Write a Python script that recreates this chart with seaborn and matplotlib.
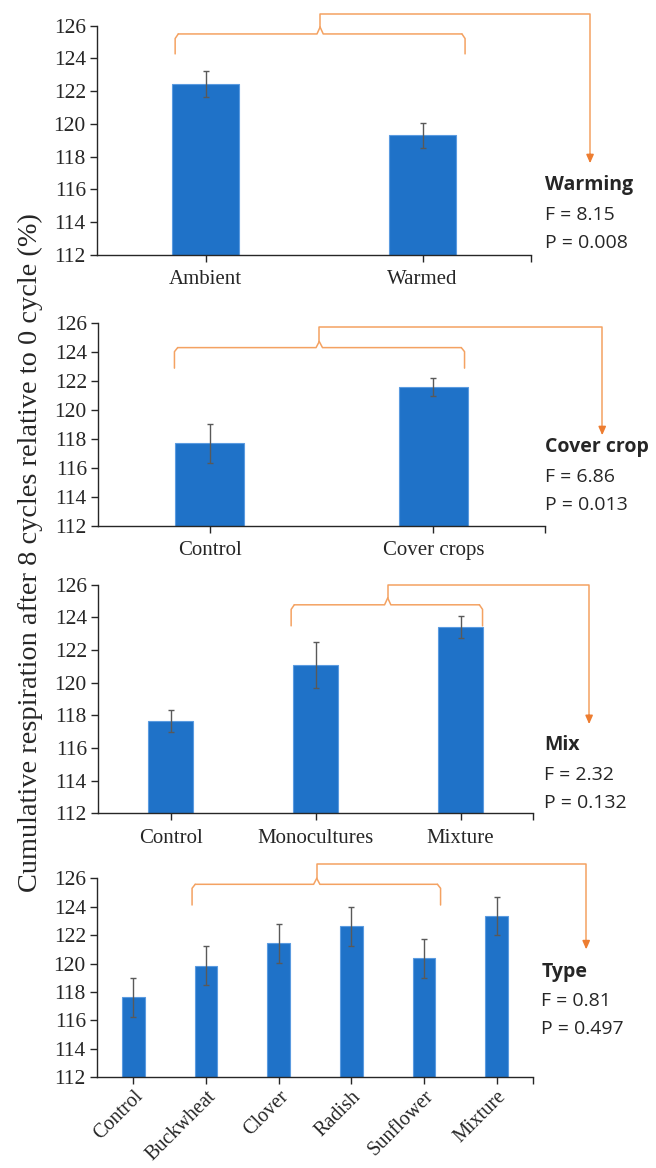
import matplotlib
matplotlib.use("Agg")
import matplotlib.pyplot as plt
import pandas as pd
import seaborn as sns

# panel 1 - warming
warm_cats = ["Ambient", "Warmed"]
warm_mean = [122.45, 119.3]
warm_se = [0.8, 0.78]

# panel 2 - cover crop
cover_cats = ["Control", "Cover crops"]
cover_mean = [117.68, 121.57]
cover_se = [1.35, 0.6]

# panel 3 - mix
mix_cats = ["Control", "Monocultures", "Mixture"]
mix_mean = [117.67, 121.08, 123.39]
mix_se = [0.68, 1.38, 0.67]

# panel 4 - type
type_cats = ["Control", "Buckwheat", "Clover", "Radish", "Sunflower", "Mixture"]
type_mean = [117.65, 119.86, 121.42, 122.62, 120.37, 123.37]
type_se = [1.37, 1.35, 1.35, 1.36, 1.37, 1.35]

stats_names = ["Warming", "Cover crop", "Mix", "Type"]
stats_F = ["8.15", "6.86", "2.32", "0.81"]
stats_P = ["0.008", "0.013", "0.132", "0.497"]

bar_color = "#1F72C8"
orange = "#F4A262"
arrow_orange = "#ED7D31"
serif = "Liberation Serif"
sans = "Open Sans"

sns.set_style("white")

fig = plt.figure(figsize=(6.56, 11.68), dpi=100)

panels = [
    (warm_cats, warm_mean, warm_se, [0.1479, 0.7817, 0.6616, 0.1963]),
    (cover_cats, cover_mean, cover_se, [0.1494, 0.5497, 0.6814, 0.1741]),
    (mix_cats, mix_mean, mix_se, [0.1494, 0.3037, 0.6631, 0.1957]),
    (type_cats, type_mean, type_se, [0.1479, 0.0776, 0.6646, 0.1704]),
]

# bracket geometry in axes fraction: left, right, centre, arrow x, top line, brace, ends, arrow tip
brackets = [
    (0.18, 0.848, 0.514, 1.136, 1.05, 0.964, 0.877, 0.40),
    (0.171, 0.82, 0.495, 1.128, 0.977, 0.877, 0.776, 0.446),
    (0.444, 0.884, 0.666, 1.129, 0.997, 0.912, 0.82, 0.39),
    (0.218, 0.788, 0.504, 1.122, 1.07, 0.97, 0.866, 0.643),
]

text_y = [
    (0.8416, 0.816, 0.792),
    (0.6176, 0.592, 0.5676),
    (0.362, 0.3365, 0.3122),
    (0.168, 0.1433, 0.1187),
]
text_x = [0.831, 0.831, 0.829, 0.825]

for i, (cats, means, ses, rect) in enumerate(panels):
    ax = fig.add_axes(rect)
    df = pd.DataFrame({"cat": cats, "mean": means})
    sns.barplot(data=df, x="cat", y="mean", color=bar_color, saturation=1,
                width=0.31, edgecolor="#5B9BE0", linewidth=0.8, ax=ax)
    ax.errorbar(range(len(cats)), means, yerr=ses, fmt="none",
                ecolor="#595959", elinewidth=1.0, capsize=2.5, capthick=1.0)
    ax.set_ylim(112, 126)
    ax.set_xlim(-0.5, len(cats) - 0.5)
    ax.set_yticks(range(112, 127, 2))
    ax.set_xlabel("")
    ax.set_ylabel("")
    for s in ["top", "right"]:
        ax.spines[s].set_visible(False)
    for s in ["left", "bottom"]:
        ax.spines[s].set_color("#262626")
        ax.spines[s].set_linewidth(1.0)
    ax.tick_params(axis="y", left=True, length=5, width=1, color="#262626",
                   labelsize=15.5, pad=3)
    ax.tick_params(axis="x", bottom=True, length=5, width=1, color="#262626",
                   labelsize=15, pad=6)
    ax.set_xticks([len(cats) - 0.5], minor=True)
    ax.tick_params(axis="x", which="minor", bottom=True, length=5, width=1,
                   color="#262626")
    for lab in ax.get_yticklabels() + ax.get_xticklabels():
        lab.set_fontfamily(serif)
    if i == 3:
        ax.tick_params(axis="x", labelsize=14.5, pad=2)
        for lab in ax.get_xticklabels():
            lab.set_rotation(45)
            lab.set_ha("right")
            lab.set_rotation_mode("anchor")

    # curly bracket with arrow to stats
    xl, xr, xc, xa, yt, yb, ye, ytip = brackets[i]
    tr = ax.transAxes
    kw = dict(color=orange, lw=1.1, transform=tr, clip_on=False)
    r = 0.012
    ax.plot([xl, xl, xl + r * 0.6], [ye, yb - 0.02, yb], **kw)
    ax.plot([xl + r * 0.6, xc - r * 0.6, xc], [yb, yb, yb + 0.03], **kw)
    ax.plot([xc, xc + r * 0.6, xr - r * 0.6], [yb + 0.03, yb, yb], **kw)
    ax.plot([xr - r * 0.6, xr, xr], [yb, yb - 0.02, ye], **kw)
    ax.plot([xc, xc, xa, xa], [yb + 0.03, yt, yt, ytip + 0.03], **kw)
    ax.annotate("", xy=(xa, ytip), xytext=(xa, ytip + 0.04), xycoords=tr,
                textcoords=tr, annotation_clip=False,
                arrowprops=dict(arrowstyle="-|>,head_length=0.5,head_width=0.22",
                                color=arrow_orange, lw=1.1, shrinkA=0, shrinkB=0))

    ty = text_y[i]
    fig.text(text_x[i], ty[0], stats_names[i], fontsize=14, fontweight="bold",
             family=sans, va="center", ha="left")
    fig.text(text_x[i], ty[1], "F = " + stats_F[i], fontsize=14,
             family=sans, va="center", ha="left")
    fig.text(text_x[i], ty[2], "P = " + stats_P[i], fontsize=14,
             family=sans, va="center", ha="left")

fig.text(0.046, 0.527, "Cumulative respiration after 8 cycles relative to 0 cycle (%)",
         rotation=90, family=serif, fontsize=20.4, va="center", ha="center")

fig.savefig("out.png", dpi=100)
